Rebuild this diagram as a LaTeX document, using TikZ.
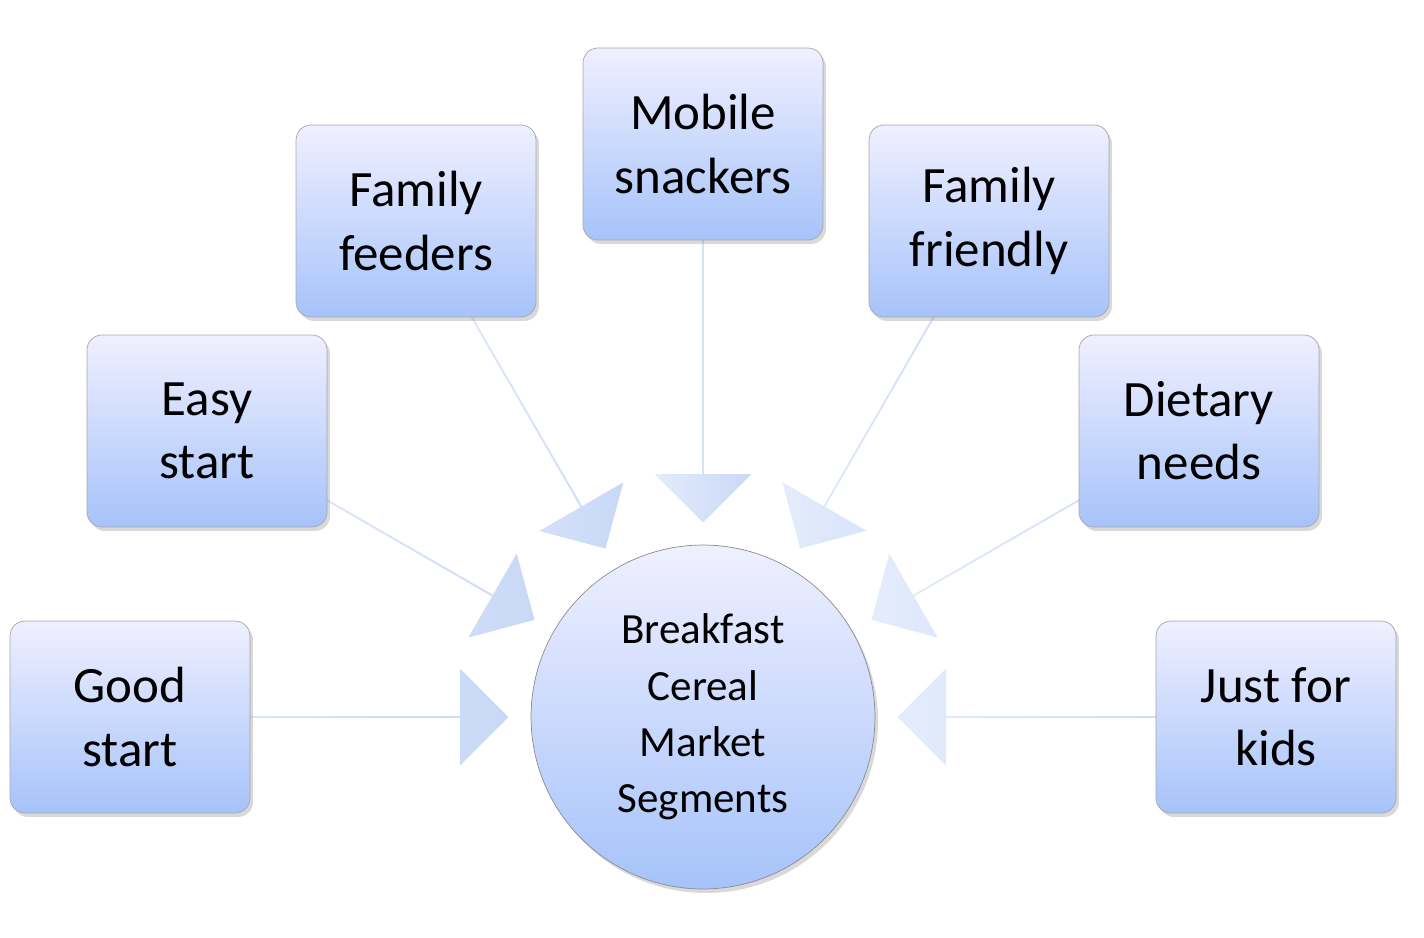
\documentclass[tikz,border=0pt]{standalone}
\usepackage{fontspec}
\setmainfont{Carlito}
\usetikzlibrary{shapes.arrows,shadows,calc}
\begin{document}
\begin{tikzpicture}[x=0.02cm,y=-0.02cm,
  box/.style={draw=black!35,rounded corners=0.3cm,minimum width=4.8cm,minimum height=3.84cm,
    top color=blue!6!white,bottom color={rgb,255:red,166;green,195;blue,250},align=center,
    font=\fontsize{29}{36}\selectfont,drop shadow={opacity=0.3,shadow xshift=0.06cm,shadow yshift=-0.08cm}},
  barrow/.style={single arrow,inner sep=0pt,minimum width=1.94cm,single arrow head extend=0.37cm,
    left color={rgb,255:red,228;green,236;blue,252},right color={rgb,255:red,200;green,216;blue,246},draw=none}]
\useasboundingbox (0,0) rectangle (1424,937);
\coordinate (c) at (703,717);
\coordinate (b1) at (130,717);
\coordinate (b2) at (207,431);
\coordinate (b3) at (416,221);
\coordinate (b4) at (703,144);
\coordinate (b5) at (989,221);
\coordinate (b6) at (1199,431);
\coordinate (b7) at (1276,717);
\foreach \b in {b1,b2,b3,b4,b5,b6,b7}{
  \path let \p1=(\b), \p2=($(c)!3.9cm!(\b)$), \n1={atan2(\y2-\y1,\x2-\x1)}, \n2={veclen(\x2-\x1,\y2-\y1)} in
    node[barrow,minimum height=\n2,rotate=\n1] (a\b) at ($(\p1)!0.5!(\p2)$) {};
}
\node[box] (n1) at (b1) {Good\\start};
\node[box] (n2) at (b2) {Easy\\start};
\node[box] (n3) at (b3) {Family\\feeders};
\node[box] (n4) at (b4) {Mobile\\snackers};
\node[box] (n5) at (b5) {Family\\friendly};
\node[box] (n6) at (b6) {Dietary\\needs};
\node[box] (n7) at (b7) {Just for\\kids};
\node[circle,draw=black!45,minimum size=6.88cm,top color=blue!6!white,bottom color={rgb,255:red,166;green,195;blue,250},
  align=center,font=\fontsize{24.5}{32}\selectfont,drop shadow={opacity=0.3,shadow xshift=0.06cm,shadow yshift=-0.08cm}] (cc) at (c)
  {Breakfast\\Cereal\\Market\\Segments};
\end{tikzpicture}
\end{document}
